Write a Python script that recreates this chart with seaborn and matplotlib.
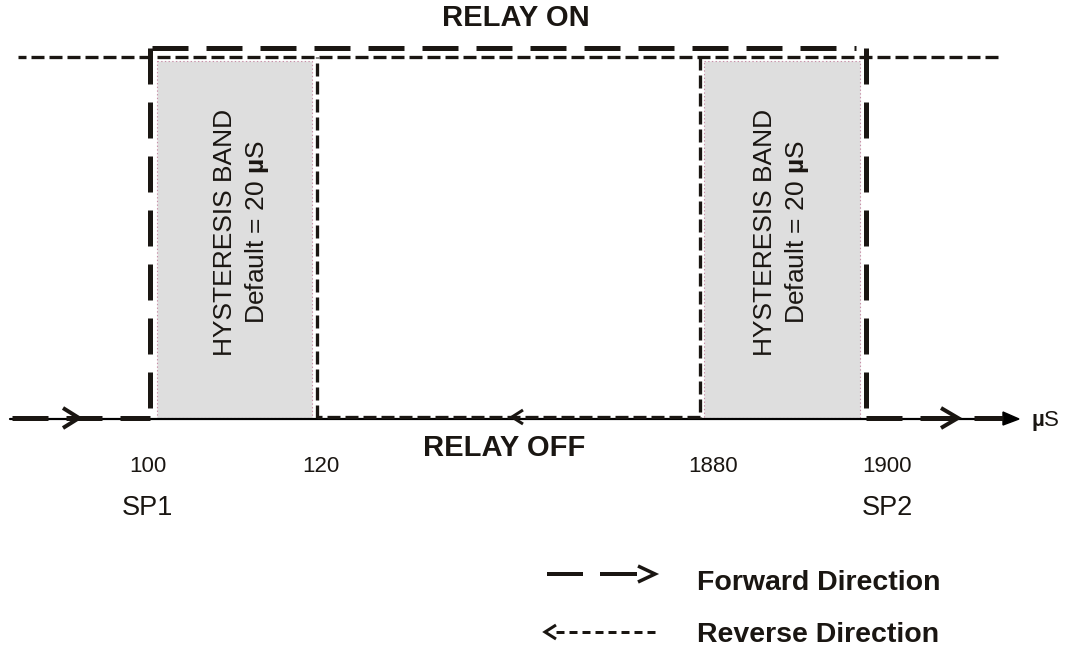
import pandas as pd
import seaborn as sns
import matplotlib.pyplot as plt
from matplotlib.patches import Rectangle, Polygon

# diagram content
setpoints = [100, 120, 1880, 1900]
setpoint_names = ["SP1", "SP2"]
band_label = "HYSTERESIS BAND"
band_default = "Default = 20 $\\mathbf{µ}$S"
unit_label = "$\\mathbf{µ}$S"
state_labels = ["RELAY ON", "RELAY OFF"]
legend_labels = ["Forward Direction", "Reverse Direction"]

# schematic layout in pixels (figure is 1070 x 646)
X_POS = {100: 150, 120: 317, 1880: 700, 1900: 866}
Y_BASE = 418
Y_REV_TOP = 57
Y_FWD_TOP = 48
X_START, X_END = 12, 1003
PT = 0.72  # px -> pt at 100 dpi

sns.set_theme(style="white")
plt.rcParams["font.family"] = ["Liberation Sans", "DejaVu Sans"]
plt.rcParams["mathtext.fontset"] = "custom"
plt.rcParams["mathtext.rm"] = "Liberation Sans"
plt.rcParams["mathtext.bf"] = "Liberation Sans:bold"
plt.rcParams["lines.scale_dashes"] = False

fig = plt.figure(figsize=(10.70, 6.46), dpi=100)
ax = fig.add_axes([0, 0, 1, 1])
ax.set_xlim(0, 1070)
ax.set_ylim(646, 0)
ax.axis("off")

x100, x120, x1880, x1900 = (X_POS[s] for s in setpoints)

# grey hysteresis bands
for x0, x1 in [(x100 + 7, x120 - 5), (x1880 + 4, x1900 - 6)]:
    ax.add_patch(Rectangle((x0, 61), x1 - x0, Y_BASE - 61, facecolor="#dedede",
                           edgecolor="#c890a8", linestyle=":", linewidth=0.8, zorder=1))

# solid axis with arrow head
ax.plot([X_START - 2, X_END + 2], [Y_BASE + 1, Y_BASE + 1], color="black", lw=2.2 * PT, zorder=2)
ax.add_patch(Polygon([(X_END, Y_BASE - 6), (X_END + 16, Y_BASE + 1), (X_END, Y_BASE + 7)],
                     closed=True, color="black", zorder=2))

# reverse path (thin dashes)
rev = pd.DataFrame({
    "seg": [0, 0, 1, 1, 2, 2, 3, 3],
    "x": [998, 18, x1880, x1880, x1880, x120, x120, x120],
    "y": [Y_REV_TOP, Y_REV_TOP, Y_REV_TOP, Y_BASE, Y_BASE - 1, Y_BASE - 1, Y_BASE, Y_REV_TOP],
})
sns.lineplot(data=rev, x="x", y="y", units="seg", estimator=None, sort=False, ax=ax,
             color="#1a1612", lw=3.3 * PT, linestyle=(0, (13 * PT, 5 * PT)),
             solid_capstyle="butt", dash_capstyle="butt", zorder=3)

# forward path (long heavy dashes)
fwd = pd.DataFrame({
    "seg": [0, 0, 1, 1, 2, 2, 3, 3, 4, 4],
    "x": [X_START, x100, x100, x100, x100 + 2, 856, x1900, x1900, x1900, X_END],
    "y": [Y_BASE, Y_BASE, Y_FWD_TOP, Y_BASE, Y_FWD_TOP, Y_FWD_TOP, Y_FWD_TOP, Y_BASE, Y_BASE, Y_BASE],
})
sns.lineplot(data=fwd, x="x", y="y", units="seg", estimator=None, sort=False, ax=ax,
             color="#1a1612", lw=5 * PT, linestyle=(0, (36 * PT, 18 * PT)),
             solid_capstyle="butt", dash_capstyle="butt", zorder=4)


def chevron(tip_x, y, dx, dy, lw):
    ax.plot([tip_x - dx, tip_x, tip_x - dx], [y - dy, y, y + dy], color="#1a1612",
            lw=lw * PT, solid_joinstyle="miter", solid_capstyle="butt", zorder=5)


chevron(79, Y_BASE, 16, 10, 4)
chevron(958, Y_BASE, 17, 10, 4)
chevron(512, Y_BASE - 1, -11, 7, 3)

# texts
txt = dict(color="#1a1612", ha="center", va="center")
ax.text(516, 18, state_labels[0], fontsize=21, fontweight="bold", **txt)
ax.text(504, 448, state_labels[1], fontsize=21, fontweight="bold", **txt)
for sp, xc in zip(setpoints, [148, 321, 713, 887]):
    ax.text(xc, 466, str(sp), fontsize=16, **txt)
ax.text(147, 508, setpoint_names[0], fontsize=19.5, **txt)
ax.text(887, 508, setpoint_names[1], fontsize=19.5, **txt)
ax.text(1031, 421, unit_label, fontsize=16, color="#1a1612", ha="left", va="center")
for xc in (225, 765):
    ax.text(xc, 232, band_label, fontsize=19, rotation=90, **txt)
    ax.text(xc + 32, 232, band_default, fontsize=19, rotation=90, **txt)

# legend
ax.plot([547, 583], [574, 574], color="#1a1612", lw=4 * PT, solid_capstyle="butt")
ax.plot([600, 637], [574, 574], color="#1a1612", lw=4 * PT, solid_capstyle="butt")
chevron(655, 574, 17, 8, 3.5)
ax.plot([556, 656], [632, 632], color="#1a1612", lw=3 * PT, linestyle=(0, (8 * PT, 5 * PT)),
        dash_capstyle="butt")
chevron(545, 632, -11, 7, 3)
ax.text(697, 583, legend_labels[0], fontsize=20.5, fontweight="bold", color="#1a1612",
        ha="left", va="center")
ax.text(697, 635, legend_labels[1], fontsize=20.5, fontweight="bold", color="#1a1612",
        ha="left", va="center")

fig.savefig("out.png", dpi=100)
